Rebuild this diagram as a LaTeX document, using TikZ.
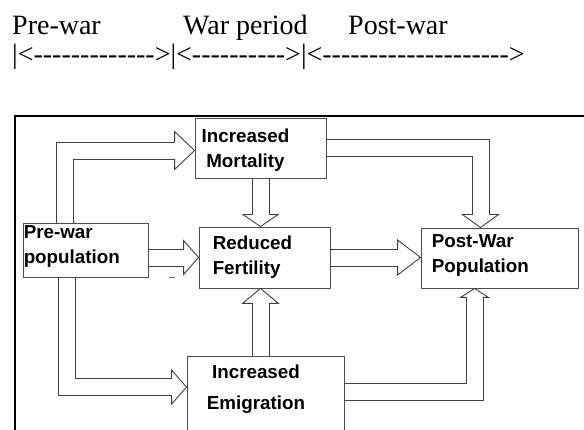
\documentclass[tikz,border=0pt]{standalone}
\usepackage{fontspec}
\setmainfont{Liberation Serif}
\newfontfamily\boxfont{Liberation Sans}
\usetikzlibrary{calc}
\newcommand{\dashrun}[1]{\foreach \k in {1,...,#1}{-}}

\tikzset{
	headlen/.store in=\hlen, headlen=15,
	headwid/.store in=\hwid, headwid=17,
	box/.style={draw=black!70, line width=0.9pt, inner sep=0pt},
	lbl/.style={font=\boxfont\bfseries\fontsize{18.8}{25}\selectfont, inner sep=0pt},
	hdr/.style={font=\fontsize{28}{34}\selectfont, inner sep=0pt, anchor=base west},
	blk/.style={draw=black!75, line width=0.9pt, line join=miter},
	bhead/.pic={\draw[blk] (-\hlen,-8.5) -- (-\hlen,-\hwid) -- (0,0)
		-- (-\hlen,\hwid) -- (-\hlen,8.5);}
}

\begin{document}
\begin{tikzpicture}[x=1pt,y=-1pt]
	\useasboundingbox (0,0) rectangle (584,430);
	
	% TIME LINE
	\node[hdr] (preH) at (12,35) {Pre-war};
	\node[hdr] (warH) at (183,35) {War period};
	\node[hdr] (postH) at (348,35) {Post-war};
	\node[hdr] (bars) at (12,64)
	{|<\dashrun{13}>|<\dashrun{10}>|<\dashrun{20}>};
	
	% FRAME
	\draw[line width=2.4pt] (15,430) -- (15,116) -- (584,116);
	
	% BOXES
	\node[box, minimum width=125pt, minimum height=54pt] (pre) at (85.5,250) {};
	\node[box, minimum width=131pt, minimum height=60pt] (mort) at (260.5,148) {};
	\node[box, minimum width=131pt, minimum height=61pt] (fert) at (264.5,257.5) {};
	\node[box, minimum width=157pt, minimum height=60pt] (post) at (499.5,258) {};
	\node[box, minimum width=157pt, minimum height=84pt] (emig) at (265.5,398) {};
	
	\node[lbl, align=left, anchor=west] (preL) at ($(pre.west)+(1,-4)$)
	{Pre-war\\population};
	\node[lbl, align=center] (mortL) at ($(mort.center)+(-15,2)$)
	{Increased\\Mortality};
	\node[lbl, align=left, anchor=west] (fertL) at ($(fert.west)+(14,0)$)
	{Reduced\\Fertility};
	\node[lbl, align=left, anchor=west] (postL) at ($(post.west)+(11,-3)$)
	{Post-War\\Population};
	\node[lbl, align=center] (emigL) at ($(emig.north)+(-9.5,34)$)
	{Increased\\[6pt]Emigration};
	
	% ARROW ENDS
	\coordinate (pmS) at ($(pre.north)+(-20.5,0)$);
	\coordinate (pmT) at ($(mort.west)+(0,2.5)$);
	\coordinate (mfS) at (mort.south);
	\coordinate (mfT) at (mort.south |- fert.north);
	\coordinate (pfS) at (pre.east |- fert.west);
	\coordinate (pfT) at (fert.west);
	\coordinate (fpS) at (fert.east);
	\coordinate (fpT) at (fert.east -| post.west);
	\coordinate (mpS) at (mort.east);
	\coordinate (mpT) at ($(post.north)+(-19,0)$);
	\coordinate (efS) at (mort.south |- emig.north);
	\coordinate (efT) at (mort.south |- fert.south);
	\coordinate (peS) at ($(pre.south)+(-18.5,0)$);
	\coordinate (peT) at ($(emig.north west)+(0,31.5)$);
	\coordinate (epS) at ($(emig.north east)+(0,36.5)$);
	\coordinate (epT) at ($(post.south)+(-25,0)$);
	
	% BLOCK ARROWS
	\draw[blk] ($(pmS)+(-8.5,0)$) |- ($(pmT)+(-20,-8.5)$);
	\draw[blk] ($(pmS)+(8.5,0)$) |- ($(pmT)+(-20,8.5)$);
	\pic[headlen=20, headwid=19] at (pmT) {bhead};
	
	\draw[blk] ($(mfS)+(-8.5,0)$) -- ($(mfT)+(-8.5,-12)$);
	\draw[blk] ($(mfS)+(8.5,0)$) -- ($(mfT)+(8.5,-12)$);
	\pic[rotate=-90, headlen=12, headwid=17.5] at (mfT) {bhead};
	
	\draw[blk] ($(pfS)+(0,-8.5)$) -- ($(pfT)+(-15,-8.5)$);
	\draw[blk] ($(pfS)+(0,8.5)$) -- ($(pfT)+(-15,8.5)$);
	\pic[headlen=15, headwid=17] at (pfT) {bhead};
	
	\draw[blk] ($(fpS)+(0,-8.5)$) -- ($(fpT)+(-23,-8.5)$);
	\draw[blk] ($(fpS)+(0,8.5)$) -- ($(fpT)+(-23,8.5)$);
	\pic[headlen=23, headwid=17.5] at (fpT) {bhead};
	
	\draw[blk] ($(mpS)+(0,-8.5)$) -| ($(mpT)+(8.5,-13)$);
	\draw[blk] ($(mpS)+(0,8.5)$) -| ($(mpT)+(-8.5,-13)$);
	\pic[rotate=-90, headlen=13, headwid=18] at (mpT) {bhead};
	
	\draw[blk] ($(efS)+(-8.5,0)$) -- ($(efT)+(-8.5,15)$);
	\draw[blk] ($(efS)+(8.5,0)$) -- ($(efT)+(8.5,15)$);
	\pic[rotate=90, headlen=15, headwid=18] at (efT) {bhead};
	
	\draw[blk] ($(peS)+(-8.5,0)$) |- ($(peT)+(-15,8.5)$);
	\draw[blk] ($(peS)+(8.5,0)$) |- ($(peT)+(-15,-8.5)$);
	\pic[headlen=15, headwid=17] at (peT) {bhead};
	
	\draw[blk] ($(epS)+(0,8.5)$) -| ($(epT)+(8.5,9)$);
	\draw[blk] ($(epS)+(0,-8.5)$) -| ($(epT)+(-8.5,9)$);
	\pic[rotate=90, headlen=9, headwid=14] at (epT) {bhead};
	
	\draw[black!60, line width=1pt] (169,278) -- (175,278);
\end{tikzpicture}
\end{document}
